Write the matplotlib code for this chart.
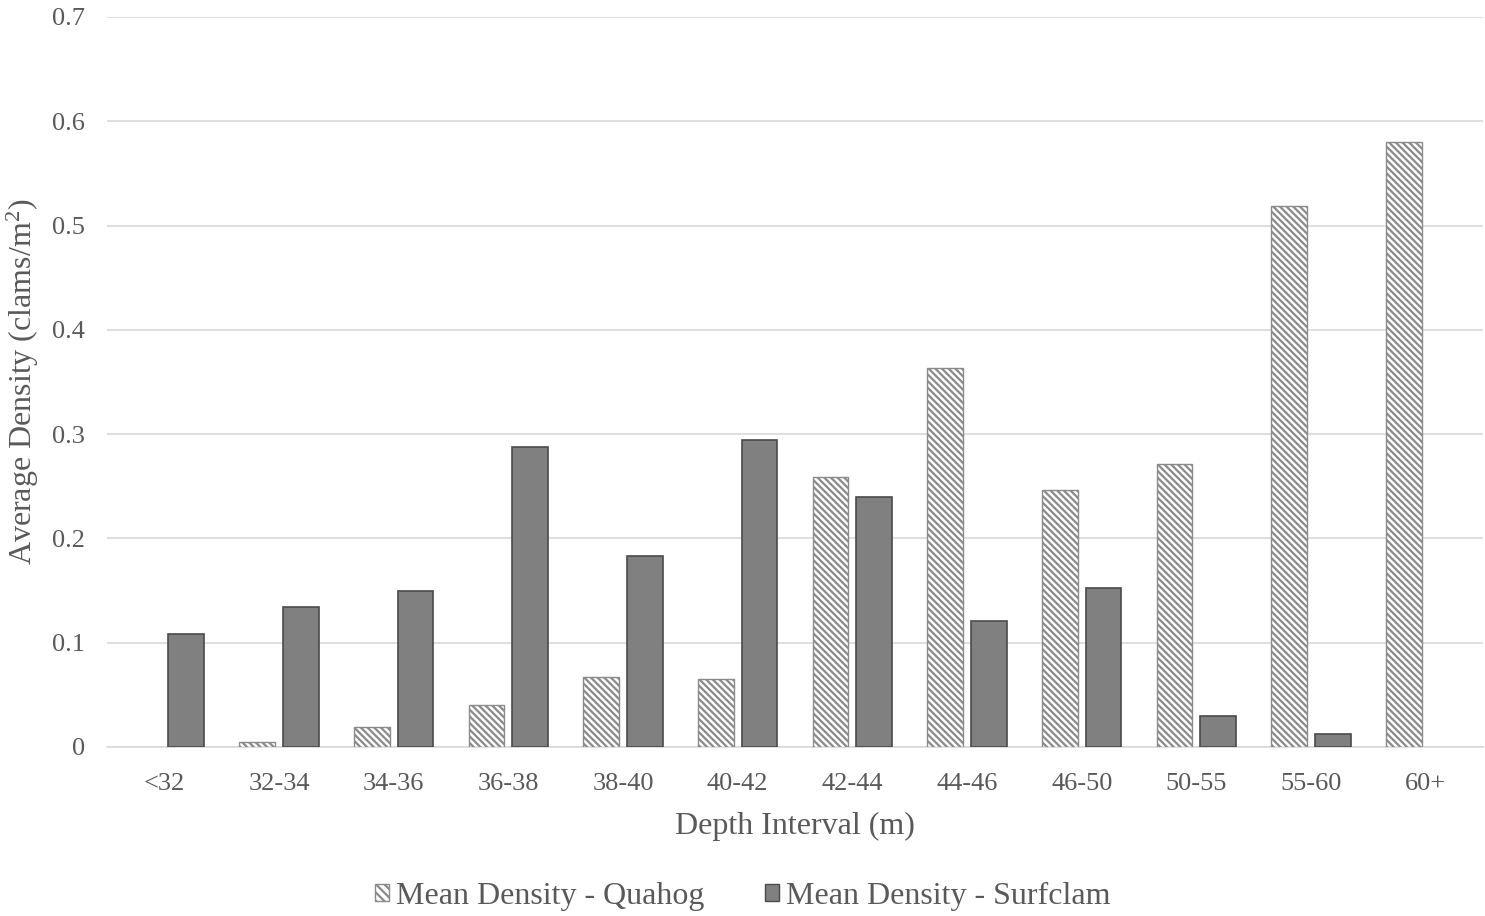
import matplotlib
matplotlib.use('Agg')
import matplotlib.pyplot as plt
from matplotlib.patches import Patch
import numpy as np

categories = ['<32', '32-34', '34-36', '36-38', '38-40', '40-42',
              '42-44', '44-46', '46-50', '50-55', '55-60', '60+']
quahog = [0.0, 0.005, 0.019, 0.040, 0.067, 0.065,
          0.259, 0.363, 0.246, 0.271, 0.519, 0.580]
surfclam = [0.108, 0.134, 0.150, 0.288, 0.183, 0.294,
            0.240, 0.121, 0.152, 0.030, 0.012, 0.0]

plt.rcParams['font.family'] = ['Liberation Serif', 'DejaVu Serif']
plt.rcParams['mathtext.fontset'] = 'custom'
plt.rcParams['mathtext.rm'] = 'Liberation Serif'
plt.rcParams['mathtext.it'] = 'Liberation Serif'
plt.rcParams['hatch.linewidth'] = 1.6
text_color = '#595959'

fig = plt.figure(figsize=(14.85, 9.16), dpi=100)
ax = fig.add_axes([0.072, 0.1845, 0.9267, 0.797])

x = np.arange(len(categories))
w = 0.31
# zero values are left out so no flat bar edge shows
q = np.array(quahog)
s = np.array(surfclam)
qm = q > 0
sm = s > 0
ax.bar(x[qm] - 0.19, q[qm], w, facecolor='white', edgecolor='#8a8a8a',
       hatch='\\\\\\\\\\', linewidth=1.0, zorder=3)
ax.bar(x[sm] + 0.19, s[sm], w, facecolor='#808080', edgecolor='#4a4a4a',
       linewidth=1.2, zorder=3)

ax.set_xlim(-0.5, len(categories) - 0.5)
ax.set_ylim(0, 0.7)
ax.set_yticks(np.arange(0, 0.71, 0.1))
ax.set_yticklabels(['0', '0.1', '0.2', '0.3', '0.4', '0.5', '0.6', '0.7'])
ax.set_xticks(x)
ax.set_xticklabels(categories)
ax.tick_params(axis='both', length=0, labelsize=19, colors=text_color)
ax.tick_params(axis='y', pad=16)
ax.tick_params(axis='x', pad=19)

ax.grid(axis='y', color='#d9d9d9', linewidth=1.2, zorder=0)
for sp in ['top', 'right', 'left']:
    ax.spines[sp].set_visible(False)
ax.spines['bottom'].set_color('#d9d9d9')
ax.spines['bottom'].set_linewidth(1.2)

ax.set_xlabel('Depth Interval (m)', fontsize=23, color=text_color, labelpad=12)
ax.set_ylabel('Average Density (clams/m$^{2}$)', fontsize=23, color=text_color)
ax.yaxis.set_label_coords(-0.048, 0.5)

handles = [Patch(facecolor='white', edgecolor='#8a8a8a', hatch='\\\\\\\\', label='Mean Density - Quahog'),
           Patch(facecolor='#808080', edgecolor='#4a4a4a', label='Mean Density - Surfclam')]
fig.legend(handles=handles, loc='center', bbox_to_anchor=(0.5, 0.021), ncol=2,
           frameon=False, fontsize=23, labelcolor=text_color,
           handlelength=0.45, handleheight=0.45, handletextpad=0.2, columnspacing=1.9)

fig.savefig('out.png', dpi=100)
